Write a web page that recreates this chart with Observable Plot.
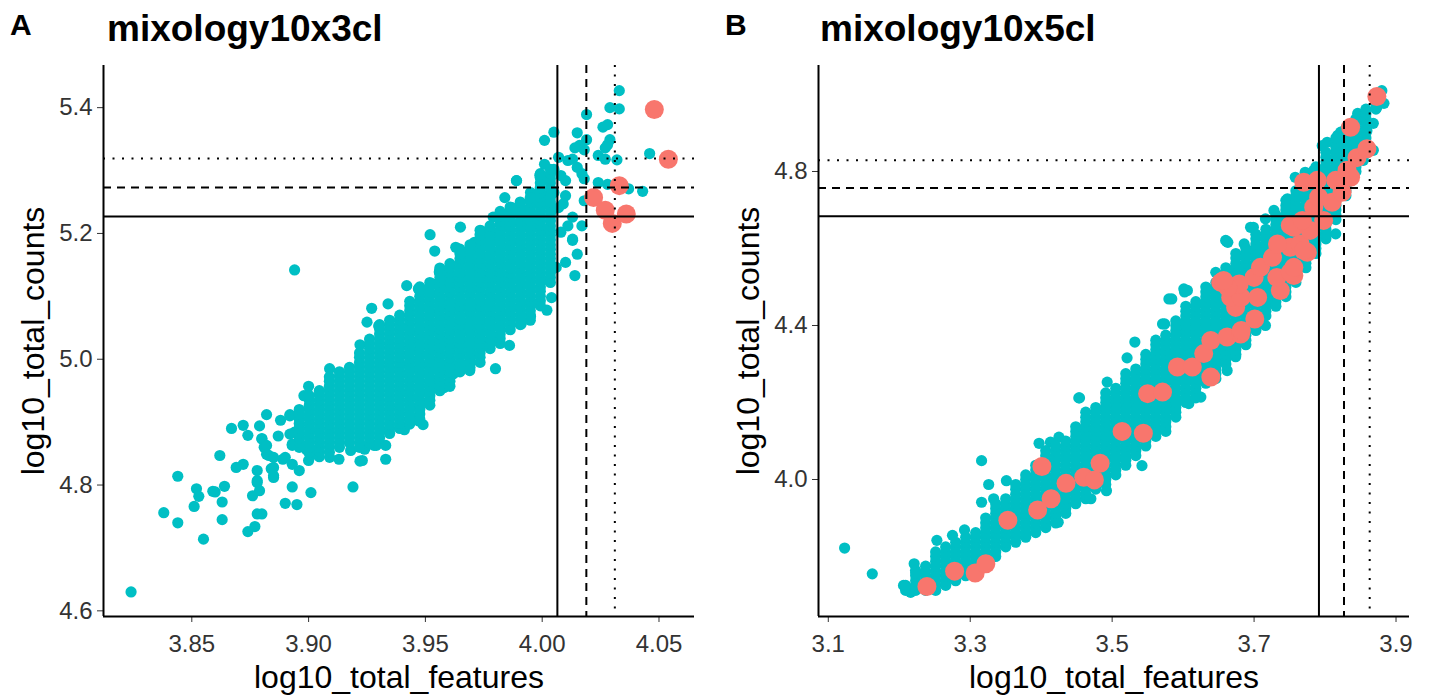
<!DOCTYPE html>
<html><head><meta charset="utf-8">
<script src="https://cdn.jsdelivr.net/npm/d3@7"></script>
<script src="https://cdn.jsdelivr.net/npm/@observablehq/plot@0.6"></script>
<style>
body{margin:0;background:#fff;font-family:"Liberation Sans",Arial,Helvetica,sans-serif;}
#wrap{position:relative;width:1433px;height:698px;overflow:hidden;background:#fff;}
#heads{position:absolute;left:0;top:0;}
.panel{position:absolute;top:55px;}
</style></head><body>
<div id="wrap">
<svg id="heads" width="1433" height="55" font-family="Liberation Sans, Arial, sans-serif" font-weight="bold">
  <text x="10" y="35" font-size="30">A</text>
  <text x="107" y="41" font-size="37">mixology10x3cl</text>
  <text x="725" y="35" font-size="30">B</text>
  <text x="820" y="41" font-size="37">mixology10x5cl</text>
</svg>
<div id="pa" class="panel" style="left:0px"></div>
<div id="pb" class="panel" style="left:716px"></div>
</div>
<script>
// ---------- Panel A: mixology10x3cl ----------
const aXTicks = [3.85, 3.90, 3.95, 4.00, 4.05];
const aYTicks = [4.6, 4.8, 5.0, 5.2, 5.4];
const aXDomain = [3.8122, 4.0652];
const aYDomain = [4.591, 5.467];
const aVLines = [4.0065, 4.0189, 4.0311]; // solid, dashed, dotted
const aHLines = [5.227, 5.273, 5.319];
// outlying cells (read individually)
const aCyanSparse = [
[3.824,4.630],[3.838,4.756],[3.844,4.814],[3.844,4.740],[3.855,4.714],[3.852,4.794],[3.853,4.782],[3.851,4.766],
[3.860,4.789],[3.862,4.847],[3.863,4.773],[3.864,4.798],[3.863,4.745],[3.867,4.890],[3.872,4.895],[3.874,4.879],
[3.869,4.828],[3.872,4.833],[3.876,4.783],[3.878,4.804],[3.879,4.791],[3.878,4.754],[3.880,4.754],[3.877,4.734],
[3.874,4.726],[3.882,4.912],[3.879,4.894],[3.888,4.903],[3.892,4.912],[3.896,4.913],[3.887,4.878],[3.894,4.884],
[3.893,4.865],[3.880,4.873],[3.881,4.860],[3.883,4.847],[3.878,4.823],[3.885,4.828],[3.889,4.841],[3.893,4.833],
[3.896,4.823],[3.878,4.807],[3.885,4.812],[3.859,4.790],[3.893,4.797],[3.890,4.771],[3.895,4.769],[3.901,4.788],
[3.919,4.797],[3.923,4.839],[3.933,4.841],[3.899,4.857],[3.900,4.839],[3.904,4.849],[3.918,4.855],[3.924,4.857],
[3.929,4.863],[3.933,4.863],[3.900,4.957],[3.898,4.942],[3.909,4.985],[3.922,5.023],[3.925,5.059],[3.930,5.053],
[3.927,5.081],[3.934,5.088],[3.942,5.117],[3.947,5.112],[3.956,5.140],[3.894,5.142],[3.952,5.198],[3.954,5.172],
[3.965,5.210],[3.984,5.257],[3.989,5.284],[4.005,5.361],[4.001,5.348],[4.033,5.427],[4.029,5.400],[4.033,5.398],
[4.019,5.389],[4.026,5.369],[4.028,5.373],[4.015,5.360],[4.029,5.349],[4.028,5.341],[4.027,5.336],[4.019,5.349],
[4.016,5.340],[4.014,5.336],[4.018,5.333],[4.024,5.324],[4.027,5.318],[4.032,5.317],[4.007,5.321],[4.013,5.318],
[4.011,5.316],[4.046,5.327],[4.001,5.310],[4.005,5.302],[3.999,5.292],[4.003,5.289],[4.008,5.292],[4.010,5.284],
[4.015,5.305],[4.017,5.295],[3.989,5.284],[3.995,5.265],[3.998,5.263],[4.002,5.260],[4.005,5.265],[4.010,5.260],
[4.009,5.247],[4.018,5.287],[4.024,5.281],[4.028,5.278],[4.037,5.271],[4.043,5.267],[3.987,5.241],[3.991,5.236],
[3.996,5.249],[4.001,5.247],[4.004,5.236],[4.007,5.241],[4.018,5.252],[4.013,5.226],[4.017,5.212],[4.011,5.212],
[4.008,5.202],[4.013,5.189],[3.979,5.226],[3.974,5.204],[3.963,5.178],[3.966,5.167],[3.971,5.186],[3.976,5.189],
[3.981,5.199],[3.985,5.210],[3.991,5.215],[3.996,5.210],[3.999,5.220],[4.002,5.204],[4.015,5.167],[4.014,5.133],
[4.010,5.154],[4.003,5.125],[4.006,5.146],[4.004,5.098],[3.956,5.138],[3.948,5.109],[3.953,5.120],[3.959,5.125],
[4.002,5.078],[3.995,5.068],[3.991,5.056],[3.995,5.086],[4.013,5.191],[3.980,4.985],[3.986,5.022],[3.969,4.982],
[3.962,4.977],[3.958,4.955],[3.952,4.958],[3.949,4.896],[3.941,4.888],[3.947,4.902],[3.928,4.863],[3.922,4.838],
[3.880,4.874],[3.882,4.863],[3.882,4.849],[3.885,4.844],[3.892,4.910],[3.892,4.881],[3.893,4.863],[3.884,4.826],
[3.885,4.815],[3.890,4.844],[3.900,4.852],[3.903,4.849],[3.909,4.844],[3.913,4.841]
];
// dense core of the cloud: [log10_total_features, [log10_total_counts ...]]
const aCyanCore = [
[3.8960,[4.860,4.868,4.875,4.883,4.890,4.898,4.905,4.913,4.920]],
[3.9003,[4.852,4.860,4.867,4.875,4.882,4.890,4.897,4.905,4.912,4.920,4.927,4.935,4.942]],
[3.9046,[4.845,4.853,4.860,4.868,4.875,4.883,4.890,4.898,4.905,4.913,4.920,4.928,4.935,4.943,4.950]],
[3.9089,[4.852,4.860,4.867,4.875,4.882,4.890,4.897,4.905,4.912,4.920,4.927,4.935,4.942,4.950,4.957,4.965,4.972]],
[3.9132,[4.860,4.868,4.875,4.883,4.890,4.898,4.905,4.913,4.920,4.928,4.935,4.943,4.950,4.958,4.965,4.973,4.980]],
[3.9175,[4.867,4.875,4.882,4.890,4.897,4.905,4.912,4.920,4.927,4.935,4.942,4.950,4.957,4.965,4.972,4.980,4.987]],
[3.9218,[4.860,4.868,4.875,4.883,4.890,4.898,4.905,4.913,4.920,4.928,4.935,4.943,4.950,4.958,4.965,4.973,4.980,4.988,4.995,5.003,5.010]],
[3.9261,[4.867,4.875,4.882,4.890,4.897,4.905,4.912,4.920,4.927,4.935,4.942,4.950,4.957,4.965,4.972,4.980,4.987,4.995,5.002,5.010,5.017,5.025,5.032]],
[3.9304,[4.875,4.883,4.890,4.898,4.905,4.913,4.920,4.928,4.935,4.943,4.950,4.958,4.965,4.973,4.980,4.988,4.995,5.003,5.010,5.018,5.025,5.033,5.040,5.048,5.055]],
[3.9347,[4.882,4.890,4.897,4.905,4.912,4.920,4.927,4.935,4.942,4.950,4.957,4.965,4.972,4.980,4.987,4.995,5.002,5.010,5.017,5.025,5.032,5.040,5.047,5.055,5.062]],
[3.9390,[4.890,4.898,4.905,4.913,4.920,4.928,4.935,4.943,4.950,4.958,4.965,4.973,4.980,4.988,4.995,5.003,5.010,5.018,5.025,5.033,5.040,5.048,5.055,5.063,5.070]],
[3.9433,[4.897,4.905,4.912,4.920,4.927,4.935,4.942,4.950,4.957,4.965,4.972,4.980,4.987,4.995,5.002,5.010,5.017,5.025,5.032,5.040,5.047,5.055,5.062,5.070,5.077,5.085,5.092]],
[3.9476,[4.905,4.913,4.920,4.928,4.935,4.943,4.950,4.958,4.965,4.973,4.980,4.988,4.995,5.003,5.010,5.018,5.025,5.033,5.040,5.048,5.055,5.063,5.070,5.078,5.085,5.093,5.100,5.108,5.115]],
[3.9519,[4.927,4.935,4.942,4.950,4.957,4.965,4.972,4.980,4.987,4.995,5.002,5.010,5.017,5.025,5.032,5.040,5.047,5.055,5.062,5.070,5.077,5.085,5.092,5.100,5.107,5.115,5.122]],
[3.9562,[4.950,4.958,4.965,4.973,4.980,4.988,4.995,5.003,5.010,5.018,5.025,5.033,5.040,5.048,5.055,5.063,5.070,5.078,5.085,5.093,5.100,5.108,5.115,5.123,5.130,5.138,5.145]],
[3.9605,[4.957,4.965,4.972,4.980,4.987,4.995,5.002,5.010,5.017,5.025,5.032,5.040,5.047,5.055,5.062,5.070,5.077,5.085,5.092,5.100,5.107,5.115,5.122,5.130,5.137,5.145,5.152]],
[3.9648,[4.980,4.988,4.995,5.003,5.010,5.018,5.025,5.033,5.040,5.048,5.055,5.063,5.070,5.078,5.085,5.093,5.100,5.108,5.115,5.123,5.130,5.138,5.145,5.153,5.160,5.168,5.175]],
[3.9691,[4.987,4.995,5.002,5.010,5.017,5.025,5.032,5.040,5.047,5.055,5.062,5.070,5.077,5.085,5.092,5.100,5.107,5.115,5.122,5.130,5.137,5.145,5.152,5.160,5.167,5.175,5.182]],
[3.9734,[4.995,5.003,5.010,5.018,5.025,5.033,5.040,5.048,5.055,5.063,5.070,5.078,5.085,5.093,5.100,5.108,5.115,5.123,5.130,5.138,5.145,5.153,5.160,5.168,5.175,5.183,5.190,5.198,5.205]],
[3.9777,[5.017,5.025,5.032,5.040,5.047,5.055,5.062,5.070,5.077,5.085,5.092,5.100,5.107,5.115,5.122,5.130,5.137,5.145,5.152,5.160,5.167,5.175,5.182,5.190,5.197,5.205,5.212]],
[3.9820,[5.025,5.033,5.040,5.048,5.055,5.063,5.070,5.078,5.085,5.093,5.100,5.108,5.115,5.123,5.130,5.138,5.145,5.153,5.160,5.168,5.175,5.183,5.190,5.198,5.205,5.213,5.220,5.228,5.235]],
[3.9863,[5.047,5.055,5.062,5.070,5.077,5.085,5.092,5.100,5.107,5.115,5.122,5.130,5.137,5.145,5.152,5.160,5.167,5.175,5.182,5.190,5.197,5.205,5.212,5.220,5.227,5.235,5.242]],
[3.9906,[5.055,5.063,5.070,5.078,5.085,5.093,5.100,5.108,5.115,5.123,5.130,5.138,5.145,5.153,5.160,5.168,5.175,5.183,5.190,5.198,5.205,5.213,5.220,5.228,5.235,5.243,5.250]],
[3.9949,[5.062,5.070,5.077,5.085,5.092,5.100,5.107,5.115,5.122,5.130,5.137,5.145,5.152,5.160,5.167,5.175,5.182,5.190,5.197,5.205,5.212,5.220,5.227,5.235,5.242,5.250,5.257]],
[3.9992,[5.085,5.093,5.100,5.108,5.115,5.123,5.130,5.138,5.145,5.153,5.160,5.168,5.175,5.183,5.190,5.198,5.205,5.213,5.220,5.228,5.235,5.243,5.250,5.258,5.265,5.273,5.280,5.288,5.295]],
[4.0035,[5.122,5.130,5.137,5.145,5.152,5.160,5.167,5.175,5.182,5.190,5.197,5.205,5.212,5.220,5.227,5.235,5.242,5.250,5.257,5.265,5.272,5.280,5.287,5.295,5.302]]
];
const aSalmon = [[4.048,5.397],[4.054,5.318],[4.033,5.276],[4.022,5.257],[4.027,5.237],[4.036,5.231],[4.030,5.216]];

// ---------- Panel B: mixology10x5cl ----------
const bXTicks = [3.1, 3.3, 3.5, 3.7, 3.9];
const bYTicks = [4.0, 4.4, 4.8];
const bXDomain = [3.0862, 3.919];
const bYDomain = [3.6442, 5.0753];
const bVLines = [3.7914, 3.8267, 3.8629];
const bHLines = [4.684, 4.757, 4.829];
const bCyanSparse = [
[3.123,3.822],[3.162,3.755],[3.206,3.725],[3.216,3.707],[3.221,3.781],[3.223,3.764],[3.253,3.842],[3.275,3.855],
[3.292,3.869],[3.316,4.049],[3.326,3.987],[3.351,3.997],[3.333,3.950],[3.316,3.941],[3.397,4.094],[3.413,4.097],
[3.425,4.110],[3.453,4.212],[3.492,3.971],[3.470,3.950],[3.424,3.889],[3.542,4.036],[3.661,4.619],[3.602,4.487],
[3.580,4.469],[3.571,4.404],[3.532,4.357],[3.521,4.316],[3.493,4.253],[3.454,4.212],[3.716,4.400],[3.674,4.319],
[3.662,4.283],[3.625,4.214],[3.608,4.197],[3.880,5.010],[3.873,4.967],[3.853,4.945],[3.859,4.906],[3.822,4.902],
[3.803,4.876],[3.796,4.867],[3.784,4.803],[3.772,4.798],[3.758,4.785],[3.747,4.729],[3.728,4.699],[3.716,4.677],
[3.660,4.621],[3.695,4.655],[3.686,4.612],[3.646,4.538],[3.601,4.495],[3.815,4.638],[3.584,4.469],[3.606,4.491],
[3.663,4.616],[3.699,4.655],[3.574,4.404],[3.818,4.894],[3.846,4.951],[3.883,4.977],[3.868,4.925],[3.868,4.855],
[3.854,4.829]
];
const bCyanCore = [
[3.2090,[3.712,3.719,3.725]],
[3.2231,[3.712,3.725,3.737,3.750,3.758]],
[3.2372,[3.712,3.725,3.737,3.750,3.762,3.775]],
[3.2513,[3.712,3.725,3.737,3.750,3.762,3.775,3.787,3.800,3.812]],
[3.2654,[3.725,3.737,3.750,3.762,3.775,3.787,3.800,3.812,3.825]],
[3.2795,[3.737,3.750,3.762,3.775,3.787,3.800,3.812,3.825,3.837]],
[3.2936,[3.750,3.762,3.775,3.787,3.800,3.812,3.825,3.837,3.850]],
[3.3077,[3.762,3.775,3.787,3.800,3.812,3.825,3.837,3.850,3.862]],
[3.3218,[3.775,3.787,3.800,3.812,3.825,3.837,3.850,3.862,3.875,3.887,3.900]],
[3.3359,[3.800,3.812,3.825,3.837,3.850,3.862,3.875,3.887,3.900,3.912,3.925,3.937]],
[3.3500,[3.825,3.837,3.850,3.862,3.875,3.887,3.900,3.912,3.925,3.937,3.950]],
[3.3641,[3.837,3.850,3.862,3.875,3.887,3.900,3.912,3.925,3.937,3.950,3.962,3.975,3.987]],
[3.3782,[3.850,3.862,3.875,3.887,3.900,3.912,3.925,3.937,3.950,3.962,3.975,3.987,4.000,4.012]],
[3.3923,[3.862,3.875,3.887,3.900,3.912,3.925,3.937,3.950,3.962,3.975,3.987,4.000,4.012,4.025,4.037]],
[3.4064,[3.875,3.887,3.900,3.912,3.925,3.937,3.950,3.962,3.975,3.987,4.000,4.012,4.025,4.037,4.050,4.062,4.075]],
[3.4205,[3.887,3.900,3.912,3.925,3.937,3.950,3.962,3.975,3.987,4.000,4.012,4.025,4.037,4.050,4.062,4.075,4.087]],
[3.4346,[3.912,3.925,3.937,3.950,3.962,3.975,3.987,4.000,4.012,4.025,4.037,4.050,4.062,4.075,4.087,4.100]],
[3.4487,[3.937,3.950,3.962,3.975,3.987,4.000,4.012,4.025,4.037,4.050,4.062,4.075,4.087,4.100,4.112,4.125,4.137]],
[3.4628,[3.950,3.962,3.975,3.987,4.000,4.012,4.025,4.037,4.050,4.062,4.075,4.087,4.100,4.112,4.125,4.137,4.150,4.162,4.175]],
[3.4769,[3.975,3.987,4.000,4.012,4.025,4.037,4.050,4.062,4.075,4.087,4.100,4.112,4.125,4.137,4.150,4.162,4.175,4.187]],
[3.4910,[3.987,4.000,4.012,4.025,4.037,4.050,4.062,4.075,4.087,4.100,4.112,4.125,4.137,4.150,4.162,4.175,4.187,4.200,4.212,4.225]],
[3.5051,[4.012,4.025,4.037,4.050,4.062,4.075,4.087,4.100,4.112,4.125,4.137,4.150,4.162,4.175,4.187,4.200,4.212,4.225,4.237]],
[3.5192,[4.037,4.050,4.062,4.075,4.087,4.100,4.112,4.125,4.137,4.150,4.162,4.175,4.187,4.200,4.212,4.225,4.237,4.250,4.262,4.275]],
[3.5333,[4.062,4.075,4.087,4.100,4.112,4.125,4.137,4.150,4.162,4.175,4.187,4.200,4.212,4.225,4.237,4.250,4.262,4.275,4.287]],
[3.5474,[4.087,4.100,4.112,4.125,4.137,4.150,4.162,4.175,4.187,4.200,4.212,4.225,4.237,4.250,4.262,4.275,4.287,4.300,4.312,4.325]],
[3.5615,[4.112,4.125,4.137,4.150,4.162,4.175,4.187,4.200,4.212,4.225,4.237,4.250,4.262,4.275,4.287,4.300,4.312,4.325,4.337,4.350,4.362]],
[3.5756,[4.125,4.137,4.150,4.162,4.175,4.187,4.200,4.212,4.225,4.237,4.250,4.262,4.275,4.287,4.300,4.312,4.325,4.337,4.350,4.362,4.375]],
[3.5897,[4.162,4.175,4.187,4.200,4.212,4.225,4.237,4.250,4.262,4.275,4.287,4.300,4.312,4.325,4.337,4.350,4.362,4.375,4.387,4.400,4.412]],
[3.6038,[4.200,4.212,4.225,4.237,4.250,4.262,4.275,4.287,4.300,4.312,4.325,4.337,4.350,4.362,4.375,4.387,4.400,4.412,4.425,4.437,4.450]],
[3.6179,[4.212,4.225,4.237,4.250,4.262,4.275,4.287,4.300,4.312,4.325,4.337,4.350,4.362,4.375,4.387,4.400,4.412,4.425,4.437,4.450,4.462]],
[3.6320,[4.250,4.262,4.275,4.287,4.300,4.312,4.325,4.337,4.350,4.362,4.375,4.387,4.400,4.412,4.425,4.437,4.450,4.462,4.475,4.487,4.500]],
[3.6461,[4.262,4.275,4.287,4.300,4.312,4.325,4.337,4.350,4.362,4.375,4.387,4.400,4.412,4.425,4.437,4.450,4.462,4.475,4.487,4.500,4.512]],
[3.6602,[4.300,4.312,4.325,4.337,4.350,4.362,4.375,4.387,4.400,4.412,4.425,4.437,4.450,4.462,4.475,4.487,4.500,4.512,4.525,4.537,4.550]],
[3.6743,[4.325,4.337,4.350,4.362,4.375,4.387,4.400,4.412,4.425,4.437,4.450,4.462,4.475,4.487,4.500,4.512,4.525,4.537,4.550,4.562,4.575,4.587]],
[3.6884,[4.350,4.362,4.375,4.387,4.400,4.412,4.425,4.437,4.450,4.462,4.475,4.487,4.500,4.512,4.525,4.537,4.550,4.562,4.575,4.587,4.600]],
[3.7025,[4.387,4.400,4.412,4.425,4.437,4.450,4.462,4.475,4.487,4.500,4.512,4.525,4.537,4.550,4.562,4.575,4.587,4.600,4.612,4.625,4.637]],
[3.7166,[4.425,4.437,4.450,4.462,4.475,4.487,4.500,4.512,4.525,4.537,4.550,4.562,4.575,4.587,4.600,4.612,4.625,4.637,4.650]],
[3.7307,[4.450,4.462,4.475,4.487,4.500,4.512,4.525,4.537,4.550,4.562,4.575,4.587,4.600,4.612,4.625,4.637,4.650,4.662,4.675,4.687]],
[3.7448,[4.475,4.487,4.500,4.512,4.525,4.537,4.550,4.562,4.575,4.587,4.600,4.612,4.625,4.637,4.650,4.662,4.675,4.687,4.700,4.712,4.725]],
[3.7589,[4.512,4.525,4.537,4.550,4.562,4.575,4.587,4.600,4.612,4.625,4.637,4.650,4.662,4.675,4.687,4.700,4.712,4.725,4.737,4.750]],
[3.7730,[4.550,4.562,4.575,4.587,4.600,4.612,4.625,4.637,4.650,4.662,4.675,4.687,4.700,4.712,4.725,4.737,4.750,4.762,4.775]],
[3.7871,[4.587,4.600,4.612,4.625,4.637,4.650,4.662,4.675,4.687,4.700,4.712,4.725,4.737,4.750,4.762,4.775,4.787,4.800,4.812]],
[3.8012,[4.625,4.637,4.650,4.662,4.675,4.687,4.700,4.712,4.725,4.737,4.750,4.762,4.775,4.787,4.800,4.812,4.825,4.837,4.850]],
[3.8153,[4.675,4.687,4.700,4.712,4.725,4.737,4.750,4.762,4.775,4.787,4.800,4.812,4.825,4.837,4.850,4.862,4.875,4.887]],
[3.8294,[4.737,4.750,4.762,4.775,4.787,4.800,4.812,4.825,4.837,4.850,4.862,4.875,4.887,4.900,4.912]],
[3.8435,[4.800,4.812,4.825,4.837,4.850,4.862,4.875,4.887,4.900,4.912,4.925,4.937]],
[3.8576,[4.875,4.887,4.900,4.912,4.925,4.937,4.950,4.962]],
[3.8717,[4.962,4.975,4.987,5.000]]
];
const bSalmon = [
[3.239,3.722],[3.278,3.762],[3.307,3.757],[3.322,3.781],[3.353,3.894],[3.395,3.921],[3.414,3.950],[3.401,4.034],
[3.435,3.990],[3.460,4.006],[3.475,3.999],[3.483,4.042],[3.514,4.125],[3.544,4.120],[3.550,4.223],[3.571,4.227],
[3.592,4.292],[3.613,4.292],[3.629,4.327],[3.639,4.266],[3.639,4.361],[3.662,4.370],[3.681,4.378],[3.682,4.387],
[3.701,4.417],[3.674,4.447],[3.667,4.473],[3.682,4.473],[3.653,4.512],[3.679,4.508],[3.663,4.499],[3.700,4.525],
[3.705,4.473],[3.737,4.491],[3.732,4.525],[3.756,4.530],[3.709,4.551],[3.726,4.577],[3.751,4.603],[3.751,4.538],
[3.756,4.551],[3.657,4.517],[3.733,4.612],[3.765,4.612],[3.775,4.590],[3.770,4.595],[3.779,4.647],[3.751,4.660],
[3.756,4.655],[3.768,4.673],[3.798,4.673],[3.784,4.707],[3.791,4.733],[3.810,4.720],[3.824,4.746],[3.770,4.772],
[3.789,4.777],[3.815,4.777],[3.836,4.785],[3.831,4.803],[3.845,4.836],[3.859,4.859],[3.836,4.915],[3.873,4.995]
];

// ---------- drawing ----------
const cyan = "#00BFC4", salmon = "#F8766D";
const dashes = [null, "8,6", "2,7.5"];
const expand = (sparse, core) => sparse.concat(core.flatMap(([x, ys]) => ys.map(y => [x, y])));

function panel(o) {
  const rules = [];
  o.vLines.forEach((v, i) => rules.push(Plot.ruleX([v], dashes[i] ? {stroke: "#000", strokeWidth: 2, strokeDasharray: dashes[i]} : {stroke: "#000", strokeWidth: 2})));
  o.hLines.forEach((v, i) => rules.push(Plot.ruleY([v], dashes[i] ? {stroke: "#000", strokeWidth: 2, strokeDasharray: dashes[i]} : {stroke: "#000", strokeWidth: 2})));
  return Plot.plot({
    width: o.width, height: 643,
    marginTop: 10, marginBottom: 82, marginLeft: o.marginLeft, marginRight: o.marginRight,
    style: {fontFamily: "Liberation Sans, Arial, sans-serif", fontSize: "24px", color: "#333", background: "transparent", overflow: "visible"},
    x: {domain: o.xDomain, ticks: o.xTicks, tickFormat: o.xFmt, tickSize: 6, tickPadding: 12, label: null},
    y: {domain: o.yDomain, ticks: o.yTicks, tickFormat: d3.format(".1f"), tickSize: 6, tickPadding: 5, label: null},
    marks: [
      Plot.dot(o.cyan, {x: d => d[0], y: d => d[1], r: 5.6, fill: cyan}),
      Plot.dot(o.salmon, {x: d => d[0], y: d => d[1], r: 9.5, fill: salmon}),
      ...rules,
      Plot.ruleX([o.xDomain[0]], {stroke: "#000", strokeWidth: 2}),
      Plot.ruleY([o.yDomain[0]], {stroke: "#000", strokeWidth: 2}),
      Plot.text(["log10_total_features"], {text: d => d, frameAnchor: "bottom", textAnchor: "middle", lineAnchor: "top", dy: 49, fontSize: 32, fill: "#000"}),
      Plot.text(["log10_total_counts"], {text: d => d, frameAnchor: "left", textAnchor: "middle", rotate: -90, dx: -70, fontSize: 32, fill: "#000"})
    ]
  });
}

document.getElementById("pa").append(panel({
  width: 716, marginLeft: 103, marginRight: 22,
  xDomain: aXDomain, yDomain: aYDomain, xTicks: aXTicks, yTicks: aYTicks, xFmt: d3.format(".2f"),
  cyan: expand(aCyanSparse, aCyanCore), salmon: aSalmon, vLines: aVLines, hLines: aHLines
}));
document.getElementById("pb").append(panel({
  width: 717, marginLeft: 102, marginRight: 24,
  xDomain: bXDomain, yDomain: bYDomain, xTicks: bXTicks, yTicks: bYTicks, xFmt: d3.format(".1f"),
  cyan: expand(bCyanSparse, bCyanCore), salmon: bSalmon, vLines: bVLines, hLines: bHLines
}));
</script>
</body></html>
